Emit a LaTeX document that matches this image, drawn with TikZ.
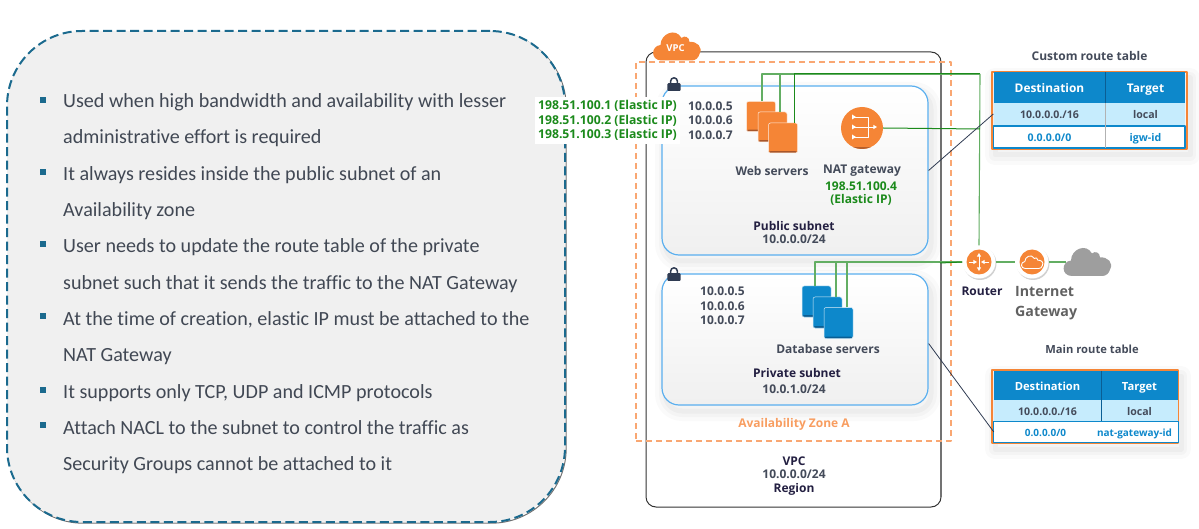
\documentclass[tikz,border=0pt]{standalone}
\usepackage{fontspec}
\setmainfont{Open Sans}
\newfontfamily\notefont[Ligatures=NoCommon]{Carlito}
\usepackage{pgf,tikz}
\usetikzlibrary{calc}
\usetikzlibrary{arrows.meta}
\definecolor{notegrey}{HTML}{F0F0F0}
\definecolor{noteblue}{HTML}{1B6A8E}
\definecolor{notetext}{HTML}{414854}
\definecolor{awsorange}{HTML}{F58536}
\definecolor{dashorange}{HTML}{F9A772}
\definecolor{subnetblue}{HTML}{5AAFEF}
\definecolor{serverblue}{HTML}{0D88CB}
\definecolor{serverdark}{HTML}{0A5E94}
\definecolor{orangedark}{HTML}{A8562A}
\definecolor{lockdark}{HTML}{2F3B52}
\definecolor{labeldark}{HTML}{444B5A}
\definecolor{titledark}{HTML}{231F41}
\definecolor{ipgreen}{HTML}{1B8A1B}
\definecolor{linkgreen}{HTML}{63AE63}
\definecolor{rowblue}{HTML}{C6ECFD}
\tikzset{
  softshadow/.style={
    preaction={draw=black,draw opacity=.018,line width=20pt,transform canvas={shift={(3pt,-6pt)}}},
    preaction={draw=black,draw opacity=.022,line width=12pt,transform canvas={shift={(3pt,-6pt)}}},
    preaction={draw=black,draw opacity=.026,line width=5pt,transform canvas={shift={(3pt,-6pt)}}}},
  notebox/.style={draw=noteblue,fill=notegrey,line width=2pt,dash pattern=on 9pt off 4.5pt,rounded corners=75pt,
    minimum width=558pt,minimum height=491pt,
    preaction={draw=black!55,solid,line width=1pt,transform canvas={shift={(1.2pt,-1.2pt)}}}},
  notebullet/.style={fill=noteblue,minimum size=6pt,inner sep=0pt},
  noteline/.style={anchor=base west,inner sep=0pt,text=notetext,yshift=-.6pt,font=\notefont\fontsize{20.1}{23}\selectfont},
  vpcbox/.style={draw=black!80,line width=1pt,rounded corners=10pt,minimum width=295pt,minimum height=455pt},
  zonebox/.style={draw=dashorange,line width=1.2pt,dash pattern=on 6pt off 4pt,minimum width=315pt,minimum height=379pt},
  subnetbox/.style={softshadow,draw=subnetblue,line width=1.2pt,rounded corners=17pt,top color=white,bottom color=black!6,minimum width=266pt},
  webbox/.style={draw=white!85!awsorange,line width=.5pt,fill=awsorange,rounded corners=2pt,minimum width=29pt,minimum height=30pt,inner sep=0pt,
    path picture={\fill[orangedark] ([yshift=1.8pt]path picture bounding box.south west) rectangle (path picture bounding box.south east);}},
  dbbox/.style={draw=white!85!serverblue,line width=.5pt,fill=serverblue,rounded corners=2pt,minimum width=29pt,minimum height=31pt,inner sep=0pt,
    path picture={\fill[serverdark] ([yshift=1.8pt]path picture bounding box.south west) rectangle (path picture bounding box.south east);}},
  iconring/.style={circle,fill=white,minimum size=33pt,inner sep=0pt,preaction={fill=black,fill opacity=.18,transform canvas={shift={(1pt,-1.5pt)}}}},
  icondisc/.style={circle,fill=awsorange,inner sep=0pt},
  linkdark/.style={draw=ipgreen,line width=1pt},
  linklight/.style={draw=linkgreen,line width=1.1pt},
  iparrow/.style={white,line width=.9pt,-{Triangle[length=3.6pt,width=4pt]}},
  lbl/.style={inner sep=0pt,yshift=-1pt,font=\fontsize{12}{14}\selectfont\bfseries,text=labeldark},
  lbltitle/.style={lbl,text=titledark},
  lblgreen/.style={lbl,text=ipgreen},
  lblstack/.style={lbl,align=left,font=\fontsize{12}{14.5}\selectfont\bfseries},
  tabframe/.style={draw=awsorange,line width=2pt,softshadow},
  tabhead/.style={fill=serverblue,text=white,inner sep=0pt,text height=11pt,text depth=1.5pt,font=\fontsize{11.2}{13}\selectfont\bfseries},
  tabrow/.style={fill=rowblue,text=labeldark,inner sep=0pt,text height=11pt,text depth=1.5pt,font=\fontsize{10.6}{12}\selectfont\bfseries},
  tabopen/.style={fill=white,text=serverblue,inner sep=0pt,text height=11pt,text depth=1.5pt,font=\fontsize{10.6}{12}\selectfont\bfseries},
  lockicon/.pic={
    \draw[lockdark,line width=1.5pt] (-3.4,0) -- (-3.4,2.8) arc (180:0:3.4) -- (3.4,0);
    \fill[lockdark,rounded corners=1pt] (-6.6,-7) rectangle (6.6,0.8);},
  cloudicon/.pic={
    \path[pic actions] (-15,-14.5) .. controls (-26,-14.5) and (-26,0) .. (-16,1)
      .. controls (-16,12) and (-1,19) .. (5,8) .. controls (8,11) and (13,9) .. (13,4)
      .. controls (20,5) and (27,-1) .. (23,-8) .. controls (22,-12) and (19,-14.5) .. (15,-14.5) -- cycle;}
}
\begin{document}
\begin{tikzpicture}[line cap=butt,line join=round,x=1pt,y=1pt]
\useasboundingbox (0,0) rectangle (1199,-529);
% left note
\node[notebox] (note) at (286,-276.5) {};
\node[notebullet] (b1) at (43,-100) {};
\node[notebullet] (b2) at (43,-172) {};
\node[notebullet] (b3) at (43,-244) {};
\node[notebullet] (b4) at (43,-316) {};
\node[notebullet] (b5) at (43,-390) {};
\node[notebullet] (b6) at (43,-425) {};
\node[noteline] (t1) at (63,-107) {Used when high bandwidth and availability with lesser};
\node[noteline] (t2) at (63,-143) {administrative effort is required};
\node[noteline] (t3) at (63,-180) {It always resides inside the public subnet of an};
\node[noteline] (t4) at (63,-216) {Availability zone};
\node[noteline] (t5) at (63,-252) {User needs to update the route table of the private};
\node[noteline] (t6) at (63,-289) {subnet such that it sends the traffic to the NAT Gateway};
\node[noteline] (t7) at (63,-325) {At the time of creation, elastic IP must be attached to the};
\node[noteline] (t8) at (63,-361) {NAT Gateway};
\node[noteline] (t9) at (63,-398) {It supports only TCP, UDP and ICMP protocols};
\node[noteline] (t10) at (63,-434) {Attach NACL to the subnet to control the traffic as};
\node[noteline] (t11) at (63,-470) {Security Groups cannot be attached to it};
% vpc and zone
\node[vpcbox] (vpc) at (793.5,-279.5) {};
\draw[black!55,line width=1.6pt] (941,-62) -- (941,-497);
\node[zonebox] (zone) at (793.5,-251.5) {};
\pic[fill=awsorange] at (676.5,-46) {cloudicon};
\node[inner sep=0pt,text=white,font=\fontsize{9.5}{11}\selectfont\bfseries] (vpcname) at (675.5,-48) {VPC};
% subnets
\node[subnetbox,minimum height=169pt] (pubsub) at (795,-170.5) {};
\node[subnetbox,minimum height=131pt] (privsub) at (795,-339.5) {};
\pic at (674,-84) {lockicon};
\pic at (674,-274) {lockicon};
% router and gateway
\node[iconring] (router) at (979,-262) {};
\node[iconring] (igw) at (1032,-262) {};
\coordinate (sky) at (1066,-262);
\coordinate (pubcorner) at (980,-74);
\coordinate (natcorner) at (980,-129);
% servers
\node[webbox] (web1) at (761,-116.5) {};
\node[webbox] (web2) at (772.5,-127) {};
\node[webbox] (web3) at (783,-138) {};
\node[dbbox] (db1) at (816.5,-301.5) {};
\node[dbbox] (db2) at (827.5,-312.5) {};
\node[dbbox] (db3) at (838.5,-323) {};
\node[icondisc,minimum size=42pt,path picture={\fill[orangedark!80!awsorange] (path picture bounding box.south west) rectangle ([yshift=1.6pt]path picture bounding box.south east);}] (nat) at (862,-128) {};
% public links
\draw[linklight] ([xshift=1pt]web1.north) |- (pubcorner);
\draw[linklight] ([xshift=7.5pt]web2.north) |- (pubcorner);
\draw[linkdark] ([xshift=11pt]web3.north) |- (pubcorner);
\draw[linklight] (pubcorner) -- (router.north);
\draw[linkdark] (nat.east) -- (natcorner);
% private links
\draw[linklight] ([xshift=-1.5pt]db1.north) |- (router.west);
\draw[linklight] ([xshift=8.5pt]db2.north) |- (router.west);
\draw[linklight] ([xshift=8.5pt]db3.north) |- (router.west);
\draw[linkdark] (940,-263) -- (router.west);
\draw[linklight] (router.east) -- (igw.west);
\draw[linklight] (igw.east) -- (sky);
% icons on top of links
\node[icondisc,minimum size=25pt] (routerdisc) at (979,-262) {};
\node[icondisc,minimum size=25pt] (igwdisc) at (1032,-262) {};
\pic[fill=black!38] at (1087,-261.5) {cloudicon};
\pic[draw=white,line width=.9pt,scale=.45] at (1032,-262) {cloudicon};
\draw[iparrow] (979,-262) -- (979,-253);
\draw[iparrow] (979,-262) -- (979,-271);
\draw[iparrow] (969,-262) -- (977,-262);
\draw[iparrow] (989,-262) -- (981,-262);
\draw[white,line width=.8pt] (855,-117) -- (868,-117) -- (868,-137) -- (855,-137);
\draw[iparrow] (855,-127) -- (877,-127);
\fill[white] (852,-114.5) -- (856,-117) -- (852,-119.5) -- cycle;
\fill[white] (852,-124.5) -- (856,-127) -- (852,-129.5) -- cycle;
\fill[white] (852,-134.5) -- (856,-137) -- (852,-139.5) -- cycle;
% labels
\node[lblstack,align=right,fill=white,inner sep=3pt,text=ipgreen,anchor=east,font=\fontsize{12.2}{14.5}\selectfont\bfseries] (elastic) at (680,-119.5) {198.51.100.1 (Elastic IP)\\198.51.100.2 (Elastic IP)\\198.51.100.3 (Elastic IP)};
\node[lblstack,anchor=west] (pubips) at (688,-119.5) {10.0.0.5\\10.0.0.6\\10.0.0.7};
\node[lblstack,anchor=west] (privips) at (700,-305) {10.0.0.5\\10.0.0.6\\10.0.0.7};
\node[lbl] (webname) at (772,-170) {Web servers};
\node[lbl] (natname) at (862,-170) {NAT gateway};
\node[lblgreen] (natip) at (861,-185) {198.51.100.4};
\node[lblgreen] (natel) at (861,-199) {(Elastic IP)};
\node[lbltitle] (pubname) at (794,-225) {Public subnet};
\node[lbl] (pubcidr) at (794,-238) {10.0.0.0/24};
\node[lbl] (dbname) at (828,-348) {Database servers};
\node[lbltitle] (privname) at (797,-372) {Private subnet};
\node[lbl] (privcidr) at (794,-388) {10.0.1.0/24};
\node[lbl,text=dashorange!70!awsorange] (zonename) at (794,-423) {Availability Zone A};
\node[lbltitle] (vpctitle) at (794,-460) {VPC};
\node[lbl] (vpccidr) at (794,-473) {10.0.0.0/24};
\node[lbltitle] (region) at (794,-488) {Region};
\node[lbltitle] (routername) at (982,-290) {Router};
\node[lbl,align=left,anchor=west,text=black!62,font=\fontsize{14.2}{20}\selectfont\bfseries] (igwname) at (1015,-302) {Internet\\Gateway};
% custom route table
\node[lbl] (customname) at (1089.5,-55) {Custom route table};
\node[tabframe,minimum width=195pt,minimum height=77pt] (ctab) at (1089.5,-110.5) {};
\node[tabhead,font=\fontsize{11.9}{13}\selectfont\bfseries,minimum width=112pt,minimum height=31pt] (cdest) at (1049.5,-88) {Destination};
\node[tabhead,font=\fontsize{11.9}{13}\selectfont\bfseries,minimum width=79pt,minimum height=31pt] (ctarget) at (1145.5,-88) {Target};
\node[tabrow,minimum width=112pt,minimum height=22pt] (crow) at (1049.5,-114) {10.0.0.0./16};
\node[tabrow,minimum width=79pt,minimum height=22pt] (clocal) at (1145.5,-114) {local};
\node[tabopen,minimum width=112pt,minimum height=22pt] (cany) at (1049.5,-137) {0.0.0.0/0};
\node[tabopen,minimum width=79pt,minimum height=22pt] (cigw) at (1145.5,-137) {igw-id};
\draw[serverblue,line width=1.5pt] (cany.north west) rectangle (cigw.south east);
\draw[serverdark,line width=1pt] (cdest.north east) -- (cdest.south east);
\draw[black!30,line width=1pt] (crow.north east) -- (cany.south east);
% main route table
\node[lbl,font=\fontsize{11.2}{13}\selectfont\bfseries] (mainname) at (1092,-348) {Main route table};
\node[tabframe,minimum width=186pt,minimum height=73pt] (mtab) at (1085,-406.5) {};
\node[tabhead,minimum width=107pt,minimum height=29pt] (mdest) at (1047.5,-385.5) {Destination};
\node[tabhead,minimum width=77pt,minimum height=29pt] (mtarget) at (1139.5,-385.5) {Target};
\node[tabrow,minimum width=107pt,minimum height=21pt] (mrow) at (1047.5,-410.5) {10.0.0.0./16};
\node[tabrow,minimum width=77pt,minimum height=21pt] (mlocal) at (1139.5,-410.5) {local};
\node[tabopen,font=\fontsize{10}{12}\selectfont\bfseries,minimum width=107pt,minimum height=21pt] (many) at (1047.5,-432) {\hspace{-4pt}0.0.0.0/0};
\node[tabopen,font=\fontsize{10}{12}\selectfont\bfseries,minimum width=77pt,minimum height=21pt] (mnat) at (1139.5,-432) {\hspace{-10pt}nat-gateway-id};
\draw[serverblue,line width=1.2pt] (many.north west) rectangle (mnat.south east);
\draw[serverdark,line width=1pt] (mdest.north east) -- (mrow.south east);
% route table links
\draw[lockdark,line width=.8pt] (pubsub.east) -- (crow.west);
\draw[lockdark,line width=.8pt] ([yshift=-4pt]privsub.east) -- (many.west);
\end{tikzpicture}
\end{document}
